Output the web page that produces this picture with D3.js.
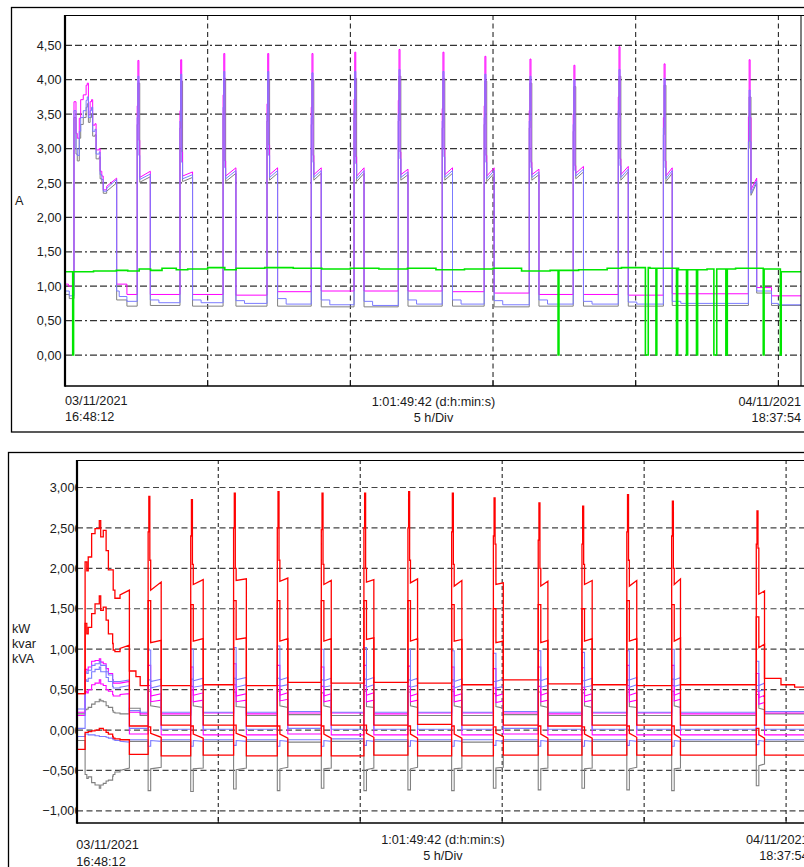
<!DOCTYPE html>
<html><head><meta charset="utf-8">
<script src="https://cdn.jsdelivr.net/npm/d3@7"></script>
<style>
html,body{margin:0;padding:0;background:#fff;overflow:hidden;}
svg{display:block;font-family:"Liberation Sans",Arial,sans-serif;}
</style></head><body>
<svg id="c" width="804" height="867"></svg>
<script>
// ---------------- DATA ----------------
const totalHours = 25.828;              // 1:01:49:42
const gridHours = [5, 10, 15, 20, 25];  // 5 h/Div
const currentTicks = [0, 0.5, 1, 1.5, 2, 2.5, 3, 3.5, 4, 4.5];
const powerTicks = [-1, -0.5, 0, 0.5, 1, 1.5, 2, 2.5, 3];
const startLabel = ["03/11/2021", "16:48:12"];
const endLabel = ["04/11/2021", "18:37:54"];
const spanLabel = ["1:01:49:42 (d:h:min:s)", "5 h/Div"];
const currentUnit = "A";
const powerUnits = ["kW", "kvar", "kVA"];

// compressor cycles (hours since start)
const pulseStart = [2.53, 4.03, 5.54, 7.08, 8.63, 10.13, 11.68, 13.22, 14.69, 16.27, 17.81, 19.39, 20.97, 23.95];
const pulseDur   = [0.46, 0.44, 0.45, 0.37, 0.35, 0.35, 0.34, 0.36, 0.35, 0.34, 0.36, 0.35, 0.31, 0.29];

// ----- currents (A) -----
const topInitT  = [0.315,0.385,0.43,0.50,0.55,0.64,0.74,0.78,0.82,0.88,0.93,0.97,1.05,1.09,1.20,1.23,1.29,1.34,1.46,1.81];
const iMagInit  = [3.68,3.22,3.15,3.44,3.71,3.78,3.92,3.95,3.49,3.68,3.71,3.34,3.36,2.98,3.00,2.67,2.60,2.40,2.45,2.57];
const iBlueInit = [3.55,3.00,2.90,3.25,3.45,3.55,3.70,3.75,3.45,3.55,3.60,3.25,3.28,2.92,2.95,2.62,2.55,2.38,2.42,2.55];
const iGrayInit = [3.45,2.92,2.82,3.15,3.35,3.45,3.60,3.65,3.38,3.45,3.50,3.18,3.20,2.85,2.88,2.56,2.50,2.35,2.38,2.50];

const iMagRise  = [3.62,3.55,3.78,3.65,3.60,3.72,3.70,3.58,3.62,3.55,3.50,3.75,3.45,3.46];
const iMagPeak  = [4.28,4.29,4.38,4.38,4.38,4.40,4.44,4.40,4.34,4.30,4.21,4.48,4.23,4.29];
const iMagDrop  = [3.12,2.95,2.82,3.05,2.90,2.88,2.95,3.00,2.90,2.80,2.75,2.85,2.82,3.45];
const iMagPlatA = [2.58,2.60,2.60,2.62,2.62,2.60,2.62,2.62,2.60,2.62,2.64,2.62,2.60,2.40];
const iMagPlatB = [2.67,2.66,2.72,2.72,2.72,2.72,2.70,2.72,2.72,2.70,2.74,2.74,2.72,2.57];
const iMagGap   = [0.88,0.88,0.87,0.92,0.93,0.93,0.93,0.92,0.90,0.88,0.88,0.87,0.89,0.98];

const iBlueRise  = [3.45,3.40,3.60,3.50,3.45,3.55,3.50,3.40,3.45,3.40,3.35,3.55,3.30,3.10];
const iBluePeak  = [4.05,4.08,4.12,4.12,4.10,4.12,4.15,4.12,4.08,4.05,4.00,4.15,4.02,3.85];
const iBlueDrop  = [2.90,2.80,2.72,2.90,2.80,2.78,2.85,2.88,2.80,2.72,2.68,2.75,2.72,3.10];
const iBluePlatA = [2.55,2.56,2.56,2.58,2.58,2.56,2.58,2.58,2.56,2.58,2.60,2.58,2.56,2.35];
const iBluePlatB = [2.63,2.62,2.68,2.68,2.68,2.68,2.66,2.68,2.68,2.66,2.70,2.70,2.68,2.53];
const iBlueGapA  = [0.80,0.80,0.79,0.82,0.80,0.78,0.80,0.80,0.79,0.80,0.78,0.77,0.78,0.93];
const iBlueGapB  = [0.76,0.76,0.75,0.74,0.73,0.72,0.74,0.74,0.73,0.74,0.74,0.74,0.75,0.93];

const iGrayRise  = [3.35,3.30,3.50,3.40,3.35,3.45,3.40,3.30,3.35,3.30,3.25,3.45,3.20,3.00];
const iGrayPeak  = [3.95,3.98,4.02,4.00,4.00,4.02,4.05,4.02,3.98,3.95,3.90,4.05,3.92,3.75];
const iGrayPlatA = [2.51,2.52,2.52,2.54,2.54,2.52,2.54,2.54,2.52,2.54,2.56,2.54,2.52,2.32];
const iGrayPlatB = [2.59,2.58,2.64,2.64,2.64,2.64,2.62,2.64,2.64,2.62,2.66,2.66,2.64,2.50];
const iGrayGap   = [0.72,0.71,0.71,0.71,0.70,0.70,0.71,0.71,0.70,0.71,0.71,0.71,0.72,0.90];

const greenLevelT = [0,0.30,1.0,1.8,2.2,2.6,3.0,3.4,3.9,4.3,5.0,5.6,6.0,7.0,8.0,9.0,10.0,11.0,12.0,13.0,14.0,15.0,16.0,17.0,18.0,19.0,19.5,20.5,21.5,22.5,23.5,24.5,25.1];
const greenLevelV = [1.21,1.21,1.22,1.23,1.22,1.25,1.23,1.26,1.24,1.25,1.27,1.24,1.26,1.27,1.26,1.25,1.26,1.25,1.26,1.24,1.25,1.26,1.22,1.23,1.24,1.26,1.27,1.26,1.24,1.25,1.26,1.25,1.21];
const greenDropT = [0.27,17.28,20.34,20.71,21.43,21.78,22.13,22.74,23.16,24.47,25.07];
const greenDropW = [0.03,0.03,0.10,0.03,0.04,0.04,0.04,0.10,0.05,0.03,0.03];

// ----- powers (kW / kvar / kVA) -----
const botInitT = [0.31,0.37,0.42,0.54,0.66,0.81,0.86,0.95,1.05,1.13,1.28,1.30,1.36,1.54,1.87];
const r1Init = [2.08,1.97,2.14,2.43,2.49,2.59,2.39,2.47,2.22,1.98,1.98,1.73,1.63,1.67,1.73];
const r2Init = [1.32,1.19,1.27,1.44,1.56,1.66,1.48,1.52,1.36,1.19,1.07,0.99,0.97,1.01,1.05];
const r3Init = [-0.03,-0.03,-0.02,-0.01,0.00,0.02,0.02,0.00,-0.03,-0.05,-0.08,-0.10,-0.11,-0.12,-0.12];
const g1Init = [0.25,0.26,0.28,0.32,0.35,0.38,0.36,0.35,0.30,0.28,0.24,0.22,0.21,0.20,0.20];
const g2Init = [-0.55,-0.60,-0.58,-0.65,-0.68,-0.72,-0.68,-0.66,-0.63,-0.62,-0.57,-0.55,-0.52,-0.50,-0.47];
const b1Init = [0.72,0.70,0.74,0.80,0.82,0.85,0.80,0.80,0.72,0.68,0.62,0.60,0.60,0.60,0.62];
const b2Init = [0.62,0.60,0.64,0.72,0.75,0.78,0.72,0.72,0.65,0.60,0.54,0.52,0.52,0.53,0.55];
const b3Init = [-0.05,-0.05,-0.06,-0.06,-0.07,-0.08,-0.08,-0.08,-0.09,-0.10,-0.11,-0.12,-0.13,-0.14,-0.15];
const m1Init = [0.75,0.74,0.78,0.85,0.86,0.88,0.84,0.82,0.76,0.70,0.62,0.58,0.58,0.58,0.60];
const m2Init = [0.48,0.46,0.50,0.56,0.58,0.62,0.57,0.55,0.50,0.48,0.44,0.42,0.42,0.44,0.45];

const r1Rise  = [2.45,2.40,2.50,2.50,2.48,2.50,2.50,2.45,2.40,2.35,2.30,2.45,2.40,2.30];
const r1Peak  = [2.89,2.85,2.93,2.95,2.93,2.93,2.95,2.93,2.87,2.81,2.77,2.91,2.83,2.71];
const r1Drop  = [2.10,2.05,2.00,2.10,2.05,2.00,2.10,2.05,2.30,2.00,2.05,2.10,2.00,2.25];
const r1PlatA = [1.73,1.80,1.85,1.84,1.80,1.83,1.82,1.78,1.80,1.78,1.80,1.78,1.80,1.68];
const r1PlatB = [1.83,1.86,1.87,1.88,1.85,1.86,1.87,1.85,1.82,1.84,1.85,1.85,1.87,1.72];
const r1Gap   = [0.55,0.56,0.55,0.59,0.58,0.59,0.58,0.56,0.62,0.57,0.56,0.55,0.56,0.64];

const r2Peak  = [1.60,1.55,1.60,1.60,1.60,1.60,1.60,1.55,1.50,1.55,1.50,1.60,1.55,1.40];
const r2PlatA = [1.08,1.10,1.12,1.10,1.10,1.12,1.10,1.10,1.08,1.08,1.10,1.10,1.10,1.02];
const r2PlatB = [1.11,1.13,1.14,1.13,1.13,1.14,1.13,1.12,1.10,1.11,1.13,1.13,1.14,1.06];
const r2Gap   = [0.06,0.06,0.05,0.06,0.06,0.06,0.07,0.06,0.06,0.05,0.06,0.06,0.06,0.06];

const r3Rise  = [0.04,0.05,0.06,0.05,0.05,0.06,0.05,0.05,0.04,0.05,0.04,0.05,0.05,0.02];
const r3PlatA = [-0.04,-0.05,-0.04,-0.05,-0.05,-0.04,-0.05,-0.05,-0.04,-0.05,-0.05,-0.04,-0.05,-0.06];
const r3PlatB = [-0.09,-0.10,-0.09,-0.10,-0.10,-0.09,-0.10,-0.10,-0.08,-0.10,-0.10,-0.09,-0.10,-0.10];
const r3Gap   = [-0.32,-0.31,-0.32,-0.32,-0.32,-0.31,-0.32,-0.32,-0.31,-0.31,-0.31,-0.31,-0.31,-0.31];

const g1Peak  = [0.48,0.50,0.47,0.48,0.46,0.48,0.47,0.48,0.45,0.47,0.46,0.47,0.48,0.44];
const g1PlatA = [0.30,0.30,0.29,0.30,0.30,0.29,0.30,0.30,0.29,0.30,0.30,0.29,0.30,0.27];
const g1PlatB = [0.28,0.28,0.28,0.28,0.28,0.28,0.28,0.28,0.27,0.28,0.28,0.28,0.28,0.25];
const g1Gap   = [0.18,0.18,0.18,0.19,0.18,0.18,0.18,0.18,0.19,0.18,0.18,0.18,0.18,0.20];

const g2Peak  = [-0.75,-0.76,-0.73,-0.75,-0.72,-0.75,-0.74,-0.75,-0.72,-0.74,-0.72,-0.74,-0.75,-0.69];
const g2PlatA = [-0.48,-0.48,-0.49,-0.48,-0.48,-0.49,-0.48,-0.48,-0.47,-0.48,-0.48,-0.48,-0.48,-0.44];
const g2PlatB = [-0.46,-0.47,-0.47,-0.46,-0.47,-0.47,-0.46,-0.47,-0.46,-0.47,-0.47,-0.46,-0.47,-0.42];
const g2Gap   = [-0.14,-0.14,-0.14,-0.15,-0.14,-0.14,-0.14,-0.15,-0.14,-0.14,-0.14,-0.14,-0.14,-0.14];

const b1Peak  = [0.99,1.00,1.02,1.04,1.00,1.02,1.00,0.98,0.95,0.98,0.96,0.98,1.00,0.85];
const b1PlatA = [0.60,0.61,0.62,0.62,0.61,0.62,0.61,0.60,0.60,0.61,0.61,0.62,0.62,0.55];
const b1PlatB = [0.63,0.64,0.65,0.65,0.64,0.65,0.64,0.63,0.63,0.64,0.64,0.65,0.65,0.58];
const b1Gap   = [0.22,0.22,0.22,0.23,0.22,0.22,0.22,0.22,0.23,0.22,0.22,0.22,0.22,0.23];

const b2Peak  = [0.62,0.63,0.64,0.64,0.62,0.63,0.62,0.62,0.60,0.62,0.61,0.62,0.63,0.55];
const b2PlatA = [0.52,0.53,0.53,0.54,0.53,0.53,0.53,0.52,0.52,0.53,0.53,0.53,0.54,0.48];
const b2PlatB = [0.55,0.55,0.56,0.56,0.55,0.56,0.55,0.55,0.54,0.55,0.55,0.56,0.56,0.50];
const b2Gap   = [0.01,0.01,0.01,0.02,0.01,0.01,0.01,0.01,0.02,0.01,0.01,0.01,0.01,0.01];

const b3Peak  = [-0.20,-0.20,-0.19,-0.20,-0.20,-0.19,-0.20,-0.20,-0.19,-0.20,-0.20,-0.19,-0.20,-0.18];
const b3PlatA = [-0.13,-0.13,-0.13,-0.13,-0.13,-0.13,-0.13,-0.13,-0.13,-0.13,-0.13,-0.13,-0.13,-0.13];
const b3PlatB = [-0.14,-0.14,-0.14,-0.14,-0.14,-0.14,-0.14,-0.14,-0.14,-0.14,-0.14,-0.14,-0.14,-0.14];
const b3Gap   = [-0.12,-0.12,-0.12,-0.12,-0.11,-0.12,-0.12,-0.12,-0.12,-0.12,-0.12,-0.12,-0.12,-0.12];

const m1Peak  = [0.80,0.78,0.82,0.80,0.78,0.80,0.79,0.78,0.76,0.78,0.77,0.80,0.80,0.70];
const m1PlatA = [0.42,0.43,0.42,0.43,0.42,0.43,0.42,0.42,0.42,0.43,0.42,0.43,0.43,0.40];
const m1PlatB = [0.45,0.46,0.45,0.46,0.45,0.46,0.45,0.45,0.45,0.46,0.45,0.46,0.46,0.43];
const m1Gap   = [0.20,0.21,0.20,0.21,0.21,0.20,0.21,0.21,0.21,0.20,0.21,0.21,0.20,0.21];

const m2Peak  = [0.55,0.54,0.56,0.55,0.54,0.55,0.54,0.54,0.52,0.54,0.53,0.55,0.55,0.48];
const m2PlatA = [0.35,0.35,0.35,0.36,0.35,0.35,0.35,0.35,0.34,0.35,0.35,0.35,0.36,0.32];
const m2PlatB = [0.37,0.37,0.37,0.38,0.37,0.37,0.37,0.37,0.36,0.37,0.37,0.37,0.38,0.34];
const m2Gap   = [-0.06,-0.06,-0.06,-0.05,-0.06,-0.06,-0.06,-0.06,-0.05,-0.06,-0.06,-0.06,-0.06,-0.06];

// ---------------- SERIES SPECS ----------------
const topSeries = [
  {color:"#808080", pre:[[0,0.88],[0.15,0.82]], initT:topInitT, init:iGrayInit, gap0:[[1.81,0.80],[2.17,0.71]],
   rise:iGrayRise, peak:iGrayPeak, platA:iGrayPlatA, platB:iGrayPlatB, gapA:iGrayGap, tail:[[24.76,0.72]]},
  {color:"#ff00ff", pre:[[0,1.03],[0.12,1.00]], initT:topInitT, init:iMagInit, gap0:[[1.81,1.03],[2.17,0.88]],
   rise:iMagRise, peak:iMagPeak, drop:iMagDrop, platA:iMagPlatA, platB:iMagPlatB, gapA:iMagGap, tail:[[24.76,0.86]]},
  {color:"#7b7bff", pre:[[0,0.93],[0.15,0.86]], initT:topInitT, init:iBlueInit, gap0:[[1.81,0.93],[1.90,0.85],[2.17,0.78]],
   rise:iBlueRise, peak:iBluePeak, drop:iBlueDrop, platA:iBluePlatA, platB:iBluePlatB, gapA:iBlueGapA, gapB:iBlueGapB, tail:[[24.76,0.75],[25.0,0.73]]}
];

const botSeries = [
  {color:"#808080", pre:[[0,0.20]], initT:botInitT, init:g1Init, gap0:[[1.87,0.27],[2.25,0.18]], rise:g1Peak, peak:g1Peak, platA:g1PlatA, platB:g1PlatB, gapA:g1Gap, tail:[]},
  {color:"#808080", pre:[[0,-0.13]], initT:botInitT, init:g2Init, gap0:[[1.87,-0.14]], rise:g2Peak, peak:g2Peak, platA:g2PlatA, platB:g2PlatB, gapA:g2Gap, tail:[]},
  {color:"#ff00ff", pre:[[0,0.22]], initT:botInitT, init:m1Init, gap0:[[1.87,0.22],[2.25,0.20]], rise:m1Peak, peak:m1Peak, platA:m1PlatA, platB:m1PlatB, gapA:m1Gap, tail:[]},
  {color:"#ff00ff", pre:[[0,0.18]], initT:botInitT, init:m2Init, gap0:[[1.87,-0.05]], rise:m2Peak, peak:m2Peak, platA:m2PlatA, platB:m2PlatB, gapA:m2Gap, tail:[]},
  {color:"#7b7bff", pre:[[0,0.26]], initT:botInitT, init:b1Init, gap0:[[1.87,0.24],[2.25,0.22]], rise:b1Peak, peak:b1Peak, platA:b1PlatA, platB:b1PlatB, gapA:b1Gap, tail:[]},
  {color:"#7b7bff", pre:[[0,0.02]], initT:botInitT, init:b2Init, gap0:[[1.87,0.02]], rise:b2Peak, peak:b2Peak, platA:b2PlatA, platB:b2PlatB, gapA:b2Gap, tail:[]},
  {color:"#7b7bff", pre:[[0,-0.08]], initT:botInitT, init:b3Init, gap0:[[1.87,-0.12]], rise:b3Peak, peak:b3Peak, platA:b3PlatA, platB:b3PlatB, gapA:b3Gap, tail:[]},
  {color:"#ff0000", pre:[[0,-0.24]], initT:botInitT, init:r3Init, gap0:[[1.87,-0.30]], rise:r3Rise, peak:r3Rise, platA:r3PlatA, platB:r3PlatB, gapA:r3Gap, tail:[]},
  {color:"#ff0000", pre:[[0,0.45]], initT:botInitT, init:r2Init, gap0:[[1.87,0.05]], rise:r2Peak, peak:r2Peak, platA:r2PlatA, platB:r2PlatB, gapA:r2Gap, tail:[]},
  {color:"#ff0000", pre:[[0,1.58],[0.02,0.45]], initT:botInitT, init:r1Init, gap0:[[1.87,0.73],[2.10,0.66],[2.25,0.55]], rise:r1Rise, peak:r1Peak, drop:r1Drop, platA:r1PlatA, platB:r1PlatB, gapA:r1Gap, tail:[[24.82,0.56],[25.3,0.53]]}
];

// ---------------- BUILD ----------------
function build(s) {
  const p = [];
  const H = (t, v) => { if (p.length) p.push([t, p[p.length - 1][1]]); p.push([t, v]); };
  const L = (t, v) => p.push([t, v]);
  s.pre.forEach(([t, v], i) => i === 0 ? L(t, v) : H(t, v));
  s.initT.forEach((t, i) => (i === s.initT.length - 1 ? L : H)(t, s.init[i]));
  s.gap0.forEach(([t, v]) => H(t, v));
  pulseStart.forEach((ts, i) => {
    const te = ts + pulseDur[i];
    H(ts, s.rise[i]);
    H(ts + 0.025, s.peak[i]);
    if (s.drop) H(ts + 0.06, s.drop[i]);
    H(ts + 0.09, s.platA[i]);
    L(te, s.platB[i]);
    H(te, s.gapA[i]);
    if (s.gapB) H(te + 0.3, s.gapB[i]);
  });
  s.tail.forEach(([t, v]) => H(t, v));
  H(totalHours, p[p.length - 1][1]);
  return p;
}
function buildGreen() {
  const levelAt = t => { let v = greenLevelV[0]; greenLevelT.forEach((lt, i) => { if (lt <= t) v = greenLevelV[i]; }); return v; };
  const inDrop = t => greenDropT.some((d, i) => t >= d && t < d + greenDropW[i]);
  const times = Array.from(new Set([...greenLevelT, ...greenDropT, ...greenDropT.map((d, i) => d + greenDropW[i])])).sort((a, b) => a - b);
  const p = [];
  times.forEach(t => {
    const v = inDrop(t) ? 0 : levelAt(t);
    if (p.length) p.push([t, p[p.length - 1][1]]);
    p.push([t, v]);
  });
  p.push([totalHours, p[p.length - 1][1]]);
  return p;
}

// ---------------- DRAW ----------------
const svg = d3.select("#c");
const fs = 12.7;
const txt = "#1a1a1a";
const comma = f => v => f(v).replace(".", ",");

// frames
svg.append("rect").attr("x", 11.5).attr("y", 7.5).attr("width", 820).attr("height", 424.5)
  .attr("fill", "none").attr("stroke", "#000").attr("stroke-width", 1.3);
svg.append("rect").attr("x", 8.5).attr("y", 452.5).attr("width", 820).attr("height", 430)
  .attr("fill", "none").attr("stroke", "#000").attr("stroke-width", 1.3);

function chart(cfg) {
  const x = d3.scaleLinear().domain([0, totalHours]).range([cfg.x0, cfg.x1]);
  const y = d3.scaleLinear().domain(cfg.yDomain).range([cfg.bottom, cfg.top]);
  const clipId = cfg.id + "clip";
  svg.append("clipPath").attr("id", clipId).append("rect")
    .attr("x", cfg.left).attr("y", cfg.top).attr("width", cfg.right - cfg.left).attr("height", cfg.bottom - cfg.top);
  const g = svg.append("g");
  // horizontal grid
  g.append("g").selectAll("line").data(cfg.ticks).join("line")
    .attr("x1", cfg.left).attr("x2", cfg.right).attr("y1", d => y(d)).attr("y2", d => y(d))
    .attr("stroke", cfg.hgColor).attr("stroke-width", 1.2).attr("stroke-dasharray", cfg.hgDash);
  // vertical grid
  g.append("g").selectAll("line").data(gridHours).join("line")
    .attr("x1", d => x(d)).attr("x2", d => x(d)).attr("y1", cfg.top).attr("y2", cfg.bottom)
    .attr("stroke", "#111").attr("stroke-width", 1).attr("stroke-dasharray", cfg.vgDash);
  g.append("g").selectAll("line").data(gridHours).join("line")
    .attr("x1", d => x(d)).attr("x2", d => x(d)).attr("y1", cfg.bottom - 6).attr("y2", cfg.bottom)
    .attr("stroke", "#111").attr("stroke-width", 1);
  // series
  const line = d3.line().x(d => x(d[0])).y(d => y(d[1]));
  const sg = g.append("g").attr("clip-path", `url(#${clipId})`);
  cfg.series.forEach(s => {
    sg.append("path").attr("d", line(build(s))).attr("fill", "none")
      .attr("stroke", s.color).attr("stroke-width", s.color === "#ff0000" ? 1.3 : cfg.lw).attr("stroke-linejoin", "miter");
  });
  if (cfg.green) {
    sg.append("path").attr("d", line(buildGreen())).attr("fill", "none")
      .attr("stroke", "#00e600").attr("stroke-width", 1.6);
  }
  // plot border
  g.append("line").attr("x1", cfg.left).attr("x2", cfg.right + 20).attr("y1", cfg.top + 0.5).attr("y2", cfg.top + 0.5).attr("stroke", "#000").attr("stroke-width", 1);
  g.append("line").attr("x1", cfg.right).attr("x2", cfg.right).attr("y1", cfg.top).attr("y2", cfg.bottom).attr("stroke", "#000").attr("stroke-width", 1);
  g.append("line").attr("x1", cfg.left).attr("x2", cfg.right + 20).attr("y1", cfg.bottom).attr("y2", cfg.bottom).attr("stroke", "#000").attr("stroke-width", 1.5);
  g.append("line").attr("x1", cfg.left).attr("x2", cfg.left).attr("y1", cfg.top).attr("y2", cfg.bottom + 0.75).attr("stroke", "#000").attr("stroke-width", 2.2);
  // y labels
  const lab = g.append("g");
  if (cfg.labelClip) {
    svg.append("clipPath").attr("id", cfg.id + "lc").append("rect").attr("x", 0).attr("y", cfg.top - 20).attr("width", cfg.labelClip).attr("height", cfg.bottom - cfg.top + 40);
    lab.attr("clip-path", `url(#${cfg.id}lc)`);
  }
  lab.selectAll("text").data(cfg.ticks).join("text")
    .attr("x", cfg.labelX).attr("y", d => y(d) + 4.6).attr("text-anchor", "end")
    .attr("font-size", fs).attr("fill", txt).text(cfg.fmt);
  // x labels
  const xl = [
    {t: startLabel[0], x: cfg.x0, y: cfg.xl1, a: "start"}, {t: startLabel[1], x: cfg.x0, y: cfg.xl2, a: "start"},
    {t: spanLabel[0], x: (cfg.x0 + cfg.x1) / 2, y: cfg.xm1, a: "middle"}, {t: spanLabel[1], x: (cfg.x0 + cfg.x1) / 2, y: cfg.xm2, a: "middle"},
    {t: endLabel[0], x: cfg.x1 - 1, y: cfg.xm1, a: "end"}, {t: endLabel[1], x: cfg.x1 - 1, y: cfg.xm2, a: "end"}
  ];
  g.append("g").selectAll("text").data(xl).join("text")
    .attr("x", d => d.x).attr("y", d => d.y).attr("text-anchor", d => d.a)
    .attr("font-size", fs).attr("fill", txt).text(d => d.t);
  // unit labels
  g.append("g").selectAll("text").data(cfg.units).join("text")
    .attr("x", cfg.unitX).attr("y", (d, i) => cfg.unitY + i * 15)
    .attr("font-size", fs).attr("fill", txt).text(d => d);
}

chart({
  id: "top", left: 65, right: 801, top: 15, bottom: 386, x0: 65, x1: 802,
  yDomain: [-0.45, 4.94], ticks: currentTicks, fmt: comma(d3.format(".2f")),
  hgColor: "#333", hgDash: "7,3,7,3,2,3", vgDash: "5,3.5",
  series: topSeries, green: true, lw: 1,
  labelX: 61.5, labelClip: null,
  xl1: 405, xl2: 421, xm1: 406, xm2: 421.5,
  units: [currentUnit], unitX: 15, unitY: 205
});

chart({
  id: "bot", left: 77, right: 812, top: 460, bottom: 823, x0: 76.3, x1: 809.6,
  yDomain: [-1.15, 3.34], ticks: powerTicks, fmt: comma(d3.format(".3f")),
  hgColor: "#444", hgDash: "6,3.5", vgDash: "4,3",
  series: botSeries, green: false, lw: 1.1,
  labelX: 81.5, labelClip: 76,
  xl1: 849, xl2: 866, xm1: 843.5, xm2: 860,
  units: powerUnits, unitX: 12, unitY: 632.5
});
</script></body></html>
